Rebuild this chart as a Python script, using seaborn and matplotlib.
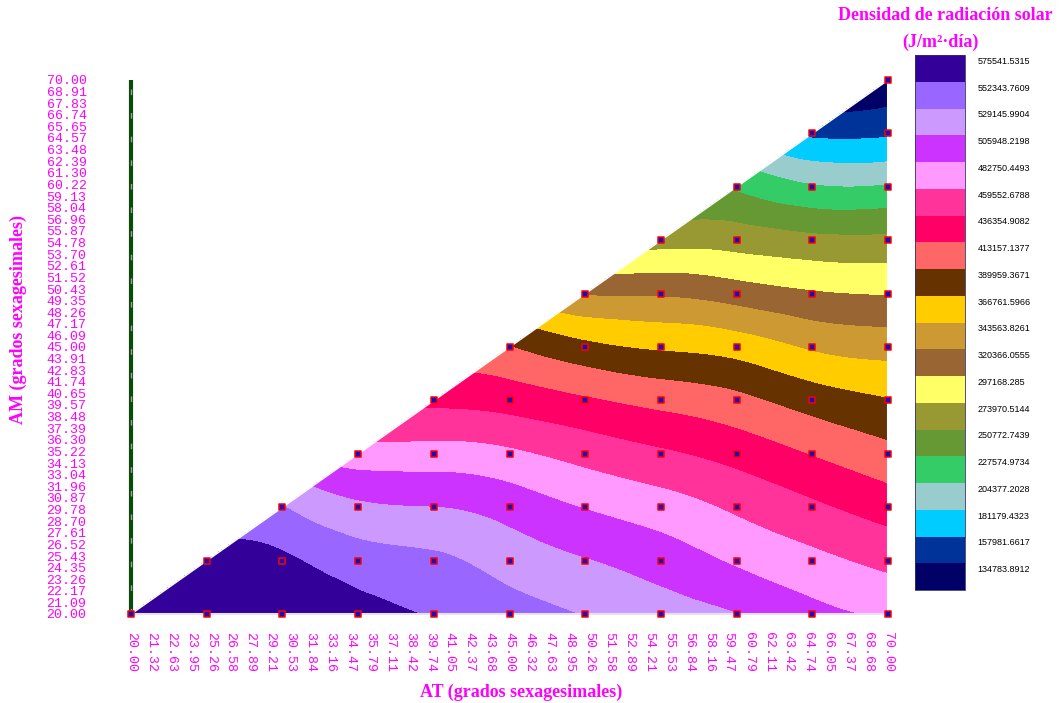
import numpy as np
import pandas as pd
import matplotlib
matplotlib.use('Agg')
import matplotlib.pyplot as plt
import matplotlib.tri as mtri
from matplotlib.colors import ListedColormap, BoundaryNorm
from matplotlib.cm import ScalarMappable
import seaborn as sns

# measured grid (degrees)
at_deg = [20, 25, 30, 35, 40, 45, 50, 55, 60, 65, 70]
am_deg = [20, 25, 30, 35, 40, 45, 50, 55, 60, 65, 70]

# solar radiation density (J/m2-dia), one row per AM value, AT from AM to 70
dens_am20 = [608018, 605699, 603379, 586213, 573686, 562783, 551183, 540049, 529610, 512908, 502469]
dens_am25 = [582037, 579717, 563015, 556288, 542601, 530074, 518243, 502701, 488782, 476255]
dens_am30 = [553504, 533322, 529146, 519403, 504778, 493180, 478565, 463496, 448882]
dens_am35 = [492030, 492262, 486694, 473935, 462800, 450738, 434963, 419885]
dens_am40 = [453985, 449578, 438907, 428932, 418957, 402486, 391119]
dens_am45 = [413853, 395759, 386712, 379521, 363514, 357019]
dens_am50 = [341244, 340316, 332197, 322454, 318742]
dens_am55 = [287889, 287193, 279770, 278610]
dens_am60 = [247293, 229663, 229663]
dens_am65 = [176540, 177700]
dens_am70 = [144063]

# colour scale (top to bottom as in the legend)
cbar_labels = ['575541.5315', '552343.7609', '529145.9904', '505948.2198', '482750.4493',
               '459552.6788', '436354.9082', '413157.1377', '389959.3671', '366761.5966',
               '343563.8261', '320366.0555', '297168.285', '273970.5144', '250772.7439',
               '227574.9734', '204377.2028', '181179.4323', '157981.6617', '134783.8912']
cbar_colors = ['#330099', '#9966FF', '#CC99FF', '#CC33FF', '#FF99FF',
               '#FF3399', '#FF0066', '#FF6666', '#663300', '#FFCC00',
               '#CC9933', '#996633', '#FFFF66', '#999933', '#669933',
               '#33CC66', '#99CCCC', '#00CCFF', '#003399', '#000066']

at_ticks = ['20.00', '21.32', '22.63', '23.95', '25.26', '26.58', '27.89', '29.21', '30.53',
            '31.84', '33.16', '34.47', '35.79', '37.11', '38.42', '39.74', '41.05', '42.37',
            '43.68', '45.00', '46.32', '47.63', '48.95', '50.26', '51.58', '52.89', '54.21',
            '55.53', '56.84', '58.16', '59.47', '60.79', '62.11', '63.42', '64.74', '66.05',
            '67.37', '68.68', '70.00']
am_ticks = ['20.00', '21.09', '22.17', '23.26', '24.35', '25.43', '26.52', '27.61', '28.70',
            '29.78', '30.87', '31.96', '33.04', '34.13', '35.22', '36.30', '37.39', '38.48',
            '39.57', '40.65', '41.74', '42.83', '43.91', '45.00', '46.09', '47.17', '48.26',
            '49.35', '50.43', '51.52', '52.61', '53.70', '54.78', '55.87', '56.96', '58.04',
            '59.13', '60.22', '61.30', '62.39', '63.48', '64.57', '65.65', '66.74', '67.83',
            '68.91', '70.00']

rows = [dens_am20, dens_am25, dens_am30, dens_am35, dens_am40, dens_am45,
        dens_am50, dens_am55, dens_am60, dens_am65, dens_am70]
recs = []
for j, row in enumerate(rows):
    for k, v in enumerate(row):
        recs.append({'AT': at_deg[j + k], 'AM': am_deg[j], 'dens': v})
df = pd.DataFrame(recs)

sns.set_style('white')
plt.rcParams['font.family'] = ['DejaVu Sans']
magenta = '#FF00FF'

fig = plt.figure(figsize=(10.59, 7.03), dpi=100)
ax = fig.add_axes([131 / 1059, 1 - 614 / 703, 757 / 1059, 534 / 703])

# filled contours over the triangle, smoothed with the cubic refiner
tri = mtri.Triangulation(df['AT'], df['AM'])
tri_f, z_f = mtri.UniformTriRefiner(tri).refine_field(df['dens'].values, subdiv=4)
bounds = sorted(float(s) for s in cbar_labels)
levels = [-1e9] + bounds[1:] + [1e9]
ax.tricontourf(tri_f, z_f, levels=levels, colors=cbar_colors[::-1])

# edges of the domain
ax.plot([20, 70], [20, 70], color='white', lw=1.2)
ax.plot([20, 70], [20, 20], color='#e8e0f0', lw=1.5, clip_on=False)
ax.plot([70, 70], [20, 70], color='white', lw=1.5, clip_on=False)
ax.plot([20, 20], [20, 70], color='#0b4a0b', lw=3, clip_on=False, solid_capstyle='butt')
ax.plot([20, 20], [20, 70], color='#a0a0a0', lw=1, clip_on=False, dashes=(4, 13))

# data points
sns.scatterplot(data=df, x='AT', y='AM', ax=ax, marker='s', s=14, color='#1010c0',
                edgecolor='red', linewidth=1.1, zorder=5, clip_on=False, legend=False)

ax.set_xlim(20, 70)
ax.set_ylim(20, 70)
for s in ax.spines.values():
    s.set_visible(False)
ax.set_xlabel('')
ax.set_ylabel('')

ax.set_xticks([float(t) for t in at_ticks], labels=at_ticks)
ax.set_yticks([float(t) for t in am_ticks], labels=am_ticks)
ax.tick_params(axis='both', length=0, colors=magenta)
ax.tick_params(axis='x', pad=13)
ax.tick_params(axis='y', pad=32)
for lab in ax.get_xticklabels():
    lab.set_family('Liberation Mono')
    lab.set_fontsize(9.5)
    lab.set_rotation(270)
    lab.set_va('top')
    lab.set_ha('center')
for lab in ax.get_yticklabels():
    lab.set_family('Liberation Mono')
    lab.set_fontsize(9.5)

fig.text(521 / 1059, 1 - 692 / 703, 'AT (grados sexagesimales)', color=magenta,
         family='Liberation Serif', weight='bold', fontsize=13, ha='center', va='center')
fig.text(18 / 1059, 1 - 320 / 703, 'AM (grados sexagesimales)', color=magenta,
         family='Liberation Serif', weight='bold', fontsize=13, ha='center', va='center',
         rotation=90)
fig.text(945 / 1059, 1 - 16 / 703, 'Densidad de radiación solar', color=magenta,
         family='Liberation Serif', weight='bold', fontsize=13, ha='center', va='center')
fig.text(940 / 1059, 1 - 42 / 703, '(J/m²·día)', color=magenta,
         family='Liberation Serif', weight='bold', fontsize=13, ha='center', va='center')

# legend bar
cax = fig.add_axes([915 / 1059, 1 - 590 / 703, 50 / 1059, 535 / 703])
step = bounds[1] - bounds[0]
cb_bounds = bounds + [bounds[-1] + step]
sm = ScalarMappable(norm=BoundaryNorm(cb_bounds, 20), cmap=ListedColormap(cbar_colors[::-1]))
cb = fig.colorbar(sm, cax=cax)
cb.set_ticks([b + 0.8 * step for b in bounds], labels=cbar_labels[::-1])
cax.minorticks_off()
cax.tick_params(which='both', length=0, pad=9, labelsize=6.5, labelcolor='black')
for lab in cax.get_yticklabels():
    lab.set_family('Liberation Sans')
cb.outline.set_linewidth(0.6)
cb.outline.set_edgecolor('#333366')

fig.savefig('out.png', dpi=100)
